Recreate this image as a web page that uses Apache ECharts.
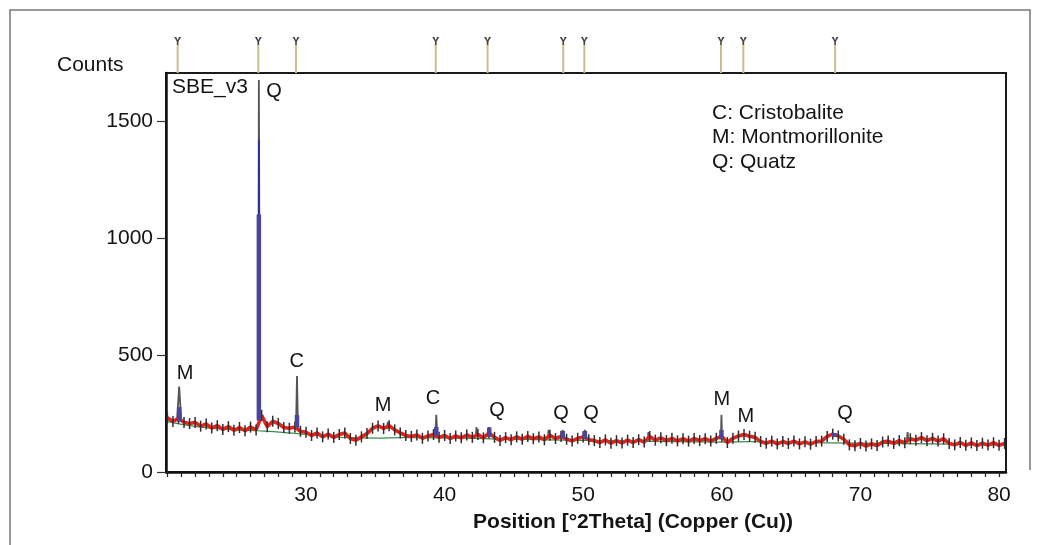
<!DOCTYPE html>
<html>
<head>
<meta charset="utf-8">
<title>SBE_v3</title>
<script src="https://cdn.jsdelivr.net/npm/echarts@6.0.0/dist/echarts.min.js"></script>
<style>
  html, body { margin: 0; padding: 0; background: #fff; }
  #chart { width: 1040px; height: 545px; }
</style>
</head>
<body>
<div id="chart"></div>
<script>
// scan grid: 20.0 .. 80.4 °2Theta, step 0.4
var scanStart = 20.0;
var scanStep = 0.4;
var scanCounts = [
  232, 216, 230, 212, 207, 212, 196, 205, 188, 198,
  182, 194, 178, 190, 176, 192, 180, 242, 193, 217,
  207, 190, 187, 192, 174, 170, 156, 167, 150, 162,
  148, 160, 167, 143, 136, 150, 164, 187, 197, 186,
  198, 180, 167, 156, 152, 158, 144, 154, 160, 148,
  156, 143, 154, 146, 158, 148, 160, 146, 167, 148,
  135, 147, 138, 150, 140, 152, 142, 150, 138, 157,
  143, 152, 140, 133, 144, 150, 138, 134, 126, 137,
  123, 134, 124, 136, 126, 138, 128, 152, 136, 146,
  134, 144, 133, 142, 132, 143, 134, 142, 132, 144,
  152, 126, 144, 154, 160, 153, 148, 130, 123, 132,
  120, 130, 122, 132, 120, 129, 119, 130, 132, 152,
  162, 154, 140, 116, 112, 122, 111, 120, 113, 128,
  132, 122, 134, 125, 142, 136, 147, 134, 144, 132,
  142, 122, 116, 126, 114, 124, 113, 123, 115, 125,
  114, 122
];

// fitted background (green)
var backgroundCurve = [
  [20, 215], [22, 195], [25, 180], [27, 175], [29, 166], [31, 156], [33, 147],
  [35, 145], [37, 147], [40, 146], [45, 140], [50, 135], [55, 131], [60, 128],
  [62, 130], [65, 126], [70, 123], [75, 120], [80, 116]
];

// observed peak spikes (grey), null breaks the line
var obsPeaks = [
  [20.7, 225], [20.85, 365], [21.0, 222], [21.0, null],
  [26.55, 240], [26.6, 1675], [26.68, 240], [26.68, null],
  [29.28, 190], [29.35, 410], [29.42, 185], [29.42, null],
  [35.85, 185], [35.9, 214], [35.95, 185], [35.95, null],
  [39.33, 155], [39.4, 244], [39.47, 155], [39.47, null],
  [42.25, 150], [42.3, 192], [42.35, 150], [42.35, null],
  [43.15, 150], [43.22, 192], [43.3, 150], [43.3, null],
  [47.45, 145], [47.5, 180], [47.55, 145], [47.55, null],
  [48.45, 145], [48.52, 180], [48.6, 145], [48.6, null],
  [50.05, 142], [50.12, 180], [50.2, 140], [50.2, null],
  [54.65, 135], [54.7, 171], [54.75, 135], [54.75, null],
  [59.93, 140], [59.97, 244], [60.02, 138], [60.02, null],
  [73.35, 135], [73.4, 171], [73.45, 135]
];

// calculated peak profiles (blue)
var calcPeaks = [
  [20.85, 215], [20.85, 278], [20.86, null],
  [26.6, 220], [26.6, 1100], [26.61, null],
  [29.35, 190], [29.35, 244], [29.36, null],
  [39.4, 155], [39.4, 192], [39.41, null],
  [43.22, 150], [43.22, 190], [43.23, null],
  [48.52, 145], [48.52, 175], [48.53, null],
  [50.12, 142], [50.12, 175], [50.13, null],
  [59.97, 140], [59.97, 180], [59.98, null],
  [68.12, 150], [68.12, 167]
];
var calcApex = [[26.6, 1100], [26.6, 1420]];

// reference pattern stick positions
var refLines = [20.74, 26.56, 29.28, 39.36, 43.1, 48.56, 50.08, 59.94, 61.55, 68.17];

// phase labels
var peakLabels = ['M', 'Q', 'C', 'M', 'C', 'Q', 'Q', 'Q', 'M', 'M', 'Q'];
var peakLabelPos = [
  [21.27, 423], [27.69, 1624], [29.33, 474], [35.56, 286], [39.16, 316],
  [43.78, 265], [48.4, 248], [50.56, 248], [60.0, 312], [61.73, 239], [68.89, 252]
];

var legendLines = ['C: Cristobalite', 'M: Montmorillonite', 'Q: Quatz'];

var xLabels = [30, 40, 50, 60, 70, 80];
var yLabels = [0, 500, 1000, 1500];

var xTicks = [];
for (var t = 20; t <= 80; t++) xTicks.push(t);

var scanData = scanCounts.map(function (c, i) {
  return [+(scanStart + i * scanStep).toFixed(2), c];
});

var font = '"Liberation Sans", Arial, sans-serif';
var txt = '#141414';

var chart = echarts.init(document.getElementById('chart'));

var graphics = [
  {
    type: 'polyline', silent: true,
    shape: { points: [[10, 545], [10, 10], [1030, 10], [1030, 470]] },
    style: { stroke: '#777', lineWidth: 1.5, fill: null }
  },
  { type: 'text', style: { text: 'Counts', x: 57, y: 65, fill: txt, font: '21px ' + font, align: 'left', verticalAlign: 'middle' } },
  { type: 'text', style: { text: 'SBE_v3', x: 172, y: 87, fill: txt, font: '21px ' + font, align: 'left', verticalAlign: 'middle' } },
  { type: 'text', style: { text: 'Position [°2Theta] (Copper (Cu))', x: 633, y: 522, fill: txt, font: 'bold 21px ' + font, align: 'center', verticalAlign: 'middle' } }
];
legendLines.forEach(function (s, i) {
  graphics.push({ type: 'text', style: { text: s, x: 712, y: 113 + i * 24.5, fill: txt, font: '21px ' + font, align: 'left', verticalAlign: 'middle' } });
});

var option = {
  animation: false,
  backgroundColor: '#fff',
  grid: [
    { left: 166, right: 34, top: 73, bottom: 73, show: true, borderColor: '#1a1a1a', borderWidth: 2 },
    { left: 166, right: 34, top: 41, height: 32 }
  ],
  xAxis: [
    {
      gridIndex: 0, type: 'value', min: 19.9, max: 80.5,
      axisLine: { show: true, onZero: false, lineStyle: { color: '#111', width: 2.5 } },
      axisTick: { show: true, customValues: xTicks, length: 5, lineStyle: { color: '#222', width: 1.2 } },
      axisLabel: { customValues: xLabels, color: txt, fontSize: 21, fontFamily: font, margin: 13 },
      splitLine: { show: false }
    },
    { gridIndex: 1, type: 'value', min: 19.9, max: 80.5, show: false }
  ],
  yAxis: [
    {
      gridIndex: 0, type: 'value', min: 0, max: 1705,
      axisLine: { show: true, lineStyle: { color: '#111', width: 2.5 } },
      axisTick: { show: true, customValues: yLabels, length: 9, lineStyle: { color: '#333', width: 1.2 } },
      axisLabel: {
        customValues: yLabels, color: txt, fontSize: 21, fontFamily: font, margin: 13,
        formatter: function (v) { return String(v); }
      },
      splitLine: { show: false }
    },
    { gridIndex: 1, type: 'value', min: 0, max: 1, show: false }
  ],
  series: [
    {
      name: 'background', type: 'line', data: backgroundCurve, smooth: true,
      showSymbol: false, lineStyle: { color: '#3c8a4c', width: 1.2 }, z: 1
    },
    {
      name: 'observed peaks', type: 'line', data: obsPeaks, showSymbol: false,
      connectNulls: false, lineStyle: { color: '#555', width: 1.8 }, z: 2
    },
    {
      name: 'scan', type: 'line', data: scanData,
      symbol: 'rect', symbolSize: [1.5, 11], showSymbol: true,
      itemStyle: { color: '#2e2e2e' },
      lineStyle: { color: '#e3231c', width: 3.6 }, z: 3
    },
    {
      name: 'calculated', type: 'line', data: calcPeaks, showSymbol: false,
      connectNulls: false, lineStyle: { color: '#48479a', width: 4.5 }, z: 4
    },
    {
      name: 'calculated apex', type: 'line', data: calcApex, showSymbol: false,
      lineStyle: { color: '#2f2f8a', width: 1.8 }, z: 4
    },
    {
      name: 'phase labels', type: 'scatter',
      data: peakLabelPos.map(function (p, i) { return { value: p, name: peakLabels[i] }; }),
      symbolSize: 1, itemStyle: { color: 'rgba(0,0,0,0)', opacity: 1 },
      label: {
        show: true, position: 'inside', formatter: '{b}', color: txt, opacity: 1,
        fontSize: 20, fontFamily: font, backgroundColor: '#fff', padding: [1, 3]
      },
      z: 10
    },
    {
      name: 'reference sticks', type: 'bar', xAxisIndex: 1, yAxisIndex: 1,
      data: refLines.map(function (v) { return [v, 1]; }),
      barWidth: 2, itemStyle: { color: '#cbbd8c' }
    },
    {
      name: 'reference heads', type: 'scatter', xAxisIndex: 1, yAxisIndex: 1,
      data: refLines.map(function (v) { return [v, 1]; }),
      symbol: 'path://M0,0 L3,0 L5,4 L7,0 L10,0 L6,6 L6,10 L4,10 L4,6 Z',
      symbolSize: [7, 8], itemStyle: { color: '#444', opacity: 1 }
    }
  ],
  graphic: graphics
};

chart.setOption(option);
</script>
</body>
</html>
